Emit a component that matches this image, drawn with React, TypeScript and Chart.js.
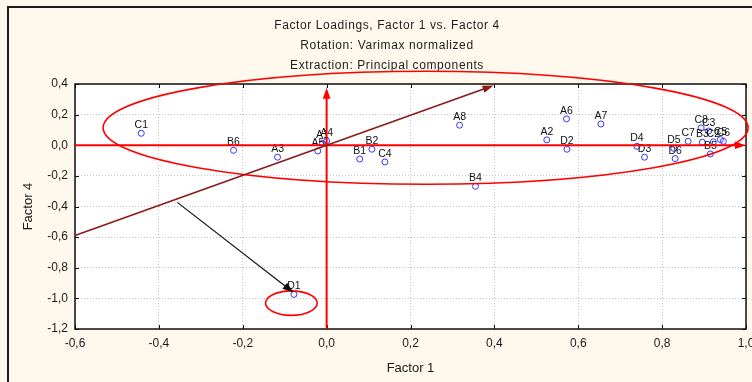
import React, { useEffect, useRef } from "react";
import { Chart, registerables } from "chart.js";

Chart.register(...registerables);

// ---- data ----
const pointLabels = ["C1", "B6", "A3", "A5", "A1", "A4", "B1", "B2", "C4", "A8", "B4", "A2", "A6", "D2", "A7", "D4", "D3", "D5", "D6", "C7", "B3", "C8", "C3", "C2", "C5", "C6", "B5", "D1"];
const factor1 = [-0.442, -0.222, -0.117, -0.021, -0.01, 0.0, 0.079, 0.108, 0.139, 0.317, 0.355, 0.525, 0.572, 0.573, 0.654, 0.74, 0.758, 0.828, 0.831, 0.862, 0.896, 0.893, 0.911, 0.922, 0.939, 0.946, 0.915, -0.078];
const factor4 = [0.078, -0.033, -0.078, -0.037, 0.012, 0.028, -0.09, -0.026, -0.109, 0.131, -0.268, 0.035, 0.172, -0.026, 0.139, -0.007, -0.078, -0.02, -0.087, 0.026, 0.02, 0.113, 0.093, 0.022, 0.037, 0.026, -0.057, -0.974];

const xMin = -0.6, xMax = 1.0, xStep = 0.2;
const yMin = -1.2, yMax = 0.4, yStep = 0.2;

const titleLines = ["Factor Loadings, Factor 1 vs. Factor 4", "Rotation: Varimax normalized", "Extraction: Principal components"];
const xTitle = "Factor 1";
const yTitle = "Factor 4";

// annotations in data units
const arrowFrom = [[-0.6, 0], [0, -1.2], [-0.6, -0.59], [-0.356, -0.373]];
const arrowTo = [[1.0, 0], [0, 0.375], [0.398, 0.39], [-0.079, -0.962]];
const arrowColors = ["#ff0000", "#ff0000", "#8b1a1a", "#111111"];
const arrowWidths = [2, 2, 1.6, 1.2];
const ellipseCenters = [[0.236, 0.114], [-0.084, -1.031]];
const ellipseRadii = [[0.769, 0.369], [0.0616, 0.08]];

const fmt = (v: any) => Number(v).toFixed(1).replace(".", ",");
const FONT = '"Liberation Sans", Arial, sans-serif';

const deco = {
  id: "deco",
  beforeDraw(chart: any) {
    const { ctx, chartArea: a, width, height } = chart;
    ctx.save();
    ctx.fillStyle = "#fef9ec";
    ctx.fillRect(0, 0, width, height);
    ctx.fillStyle = "#ffffff";
    ctx.fillRect(a.left, a.top, a.right - a.left, a.bottom - a.top);
    ctx.strokeStyle = "#1a1a1a";
    ctx.lineWidth = 2;
    ctx.strokeRect(8, 7, width + 40, height + 40);
    ctx.fillStyle = "#1e1e1e";
    ctx.font = "12px " + FONT;
    (ctx as any).letterSpacing = "0.6px";
    ctx.textAlign = "center";
    ctx.textBaseline = "middle";
    const ys = [26, 46, 66];
    titleLines.forEach((t, i) => ctx.fillText(t, 387, ys[i]));
    ctx.restore();
  },
  afterDatasetsDraw(chart: any) {
    const { ctx, chartArea: a } = chart;
    const xs = chart.scales.x, ys = chart.scales.y;
    ctx.save();
    // plot frame
    ctx.strokeStyle = "#111";
    ctx.lineWidth = 1.5;
    ctx.strokeRect(a.left, a.top, a.right - a.left, a.bottom - a.top);
    // inward ticks
    ctx.lineWidth = 1;
    ctx.beginPath();
    xs.ticks.forEach((t: any) => {
      const p = Math.round(xs.getPixelForValue(t.value)) + 0.5;
      ctx.moveTo(p, a.bottom); ctx.lineTo(p, a.bottom - 4);
      ctx.moveTo(p, a.top); ctx.lineTo(p, a.top + 4);
    });
    ys.ticks.forEach((t: any) => {
      const p = Math.round(ys.getPixelForValue(t.value)) + 0.5;
      ctx.moveTo(a.left, p); ctx.lineTo(a.left + 4, p);
      ctx.moveTo(a.right, p); ctx.lineTo(a.right - 4, p);
    });
    ctx.stroke();
    // point labels
    const meta = chart.getDatasetMeta(0);
    ctx.fillStyle = "#111";
    ctx.font = "10.5px " + FONT;
    ctx.textAlign = "center";
    ctx.textBaseline = "alphabetic";
    meta.data.forEach((el: any, i: number) => {
      ctx.fillText(pointLabels[i], el.x, el.y - 5);
    });
    // ellipses
    ctx.strokeStyle = "#ff0000";
    ctx.lineWidth = 1.6;
    ellipseCenters.forEach((c, i) => {
      const cx = xs.getPixelForValue(c[0]);
      const cy = ys.getPixelForValue(c[1]);
      const rx = Math.abs(xs.getPixelForValue(c[0] + ellipseRadii[i][0]) - cx);
      const ry = Math.abs(ys.getPixelForValue(c[1] + ellipseRadii[i][1]) - cy);
      ctx.beginPath();
      ctx.ellipse(cx, cy, rx, ry, 0, 0, Math.PI * 2);
      ctx.stroke();
    });
    // arrows
    arrowFrom.forEach((f, i) => {
      const x1 = xs.getPixelForValue(f[0]), y1 = ys.getPixelForValue(f[1]);
      const x2 = xs.getPixelForValue(arrowTo[i][0]), y2 = ys.getPixelForValue(arrowTo[i][1]);
      const ang = Math.atan2(y2 - y1, x2 - x1);
      const L = 11, W = 3.8;
      ctx.strokeStyle = arrowColors[i];
      ctx.fillStyle = arrowColors[i];
      ctx.lineWidth = arrowWidths[i];
      ctx.beginPath();
      ctx.moveTo(x1, y1);
      ctx.lineTo(x2 - Math.cos(ang) * (L - 2), y2 - Math.sin(ang) * (L - 2));
      ctx.stroke();
      const bx = x2 - Math.cos(ang) * L, by = y2 - Math.sin(ang) * L;
      ctx.beginPath();
      ctx.moveTo(x2, y2);
      ctx.lineTo(bx + Math.sin(ang) * W, by - Math.cos(ang) * W);
      ctx.lineTo(bx - Math.sin(ang) * W, by + Math.cos(ang) * W);
      ctx.closePath();
      ctx.fill();
    });
    ctx.restore();
  },
};

export default function App() {
  const ref = useRef<HTMLCanvasElement>(null);
  useEffect(() => {
    if (!ref.current) return;
    Chart.defaults.font.family = FONT;
    const chart = new Chart(ref.current, {
      type: "scatter",
      data: {
        datasets: [
          {
            data: factor1.map((x, i) => ({ x, y: factor4[i] })),
            pointRadius: 3,
            pointBorderColor: "#3535ff",
            pointBackgroundColor: "rgba(255,255,255,0)",
            pointBorderWidth: 1,
          },
        ],
      },
      options: {
        animation: false,
        responsive: false,
        devicePixelRatio: 1,
        layout: { padding: { top: 84, left: 0, right: 34, bottom: 0 } },
        plugins: { legend: { display: false }, tooltip: { enabled: false }, title: { display: false } },
        scales: {
          x: {
            type: "linear",
            min: xMin,
            max: xMax,
            ticks: { stepSize: xStep, callback: fmt, padding: 7, color: "#1a1a1a", font: { size: 12 } },
            grid: { color: "#c4c4c4", lineWidth: 1, drawTicks: false },
            border: { display: false, dash: [1, 2] },
            title: { display: true, text: xTitle, color: "#1a1a1a", font: { size: 13 }, padding: { top: 0, bottom: 6 } },
            afterFit(s: any) { s.height = 53; },
          },
          y: {
            type: "linear",
            min: yMin,
            max: yMax,
            ticks: { stepSize: yStep, callback: fmt, padding: 7, color: "#1a1a1a", font: { size: 12 } },
            grid: { color: "#c4c4c4", lineWidth: 1, drawTicks: false },
            border: { display: false, dash: [1, 2] },
            title: { display: true, text: yTitle, color: "#1a1a1a", font: { size: 13 }, padding: { top: 21, bottom: 0 } },
            afterFit(s: any) { s.width = 75; },
          },
        },
      },
      plugins: [deco],
    } as any);
    return () => chart.destroy();
  }, []);
  return (
    <div style={{ position: "fixed", left: 0, top: 0, width: 752, height: 382, overflow: "hidden" }}>
      <canvas ref={ref} width={780} height={382} style={{ width: 780, height: 382, display: "block" }} />
    </div>
  );
}
